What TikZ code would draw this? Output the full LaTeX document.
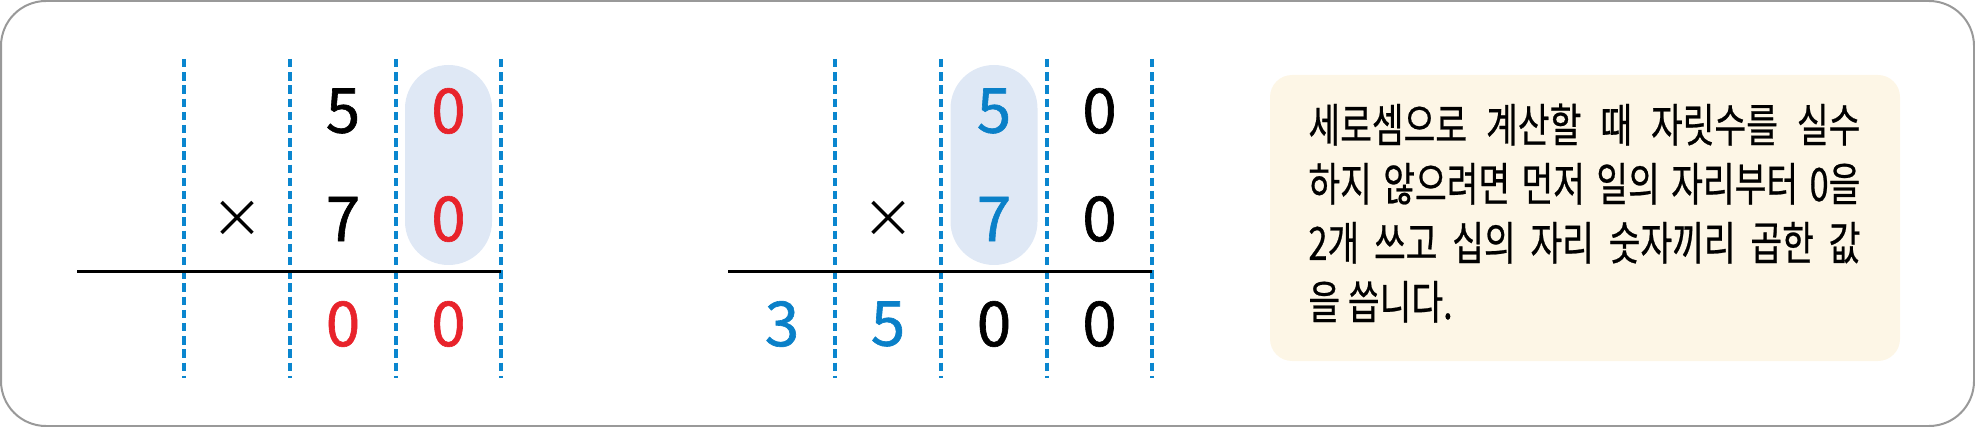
\documentclass[tikz,border=0pt]{standalone}
\usepackage{fontspec}
\setmainfont{Noto Sans CJK KR}
\newfontfamily\kofont[FakeStretch=0.75,FakeBold=0.5]{Noto Sans CJK KR}
\newfontfamily\digitfont[FakeBold=1]{Noto Sans CJK KR}
\usepackage{tikz}
\definecolor{framegray}{HTML}{999999}
\definecolor{guideblue}{HTML}{0A86CF}
\definecolor{digitblue}{HTML}{0A80C8}
\definecolor{digitred}{HTML}{E8232B}
\definecolor{pillblue}{HTML}{DFE8F5}
\definecolor{notecream}{HTML}{FDF6E6}
\tikzset{
  digit/.style={font=\digitfont\fontsize{31}{31}\selectfont, inner sep=0pt},
  timesmark/.style={font=\fontsize{26}{26}\selectfont, inner sep=0pt},
  guide/.style={guideblue, line width=1.6pt, dash pattern=on 4.2pt off 2.4pt},
  rule/.style={black, line width=1.5pt},
  pill/.style={pillblue, rounded corners=21.7pt},
  noteline/.style={anchor=base west, inner sep=0pt,
    font=\kofont\fontsize{23}{23}\selectfont},
}

\begin{document}
\begin{tikzpicture}[x=0.5pt,y=-0.5pt]

  \newcommand\RowA{111}; % first row
  \newcommand\RowB{219}; % second row
  \newcommand\RowC{324}; % result row

  \useasboundingbox (0,0) rectangle (1975,427);
  \draw[framegray, line width=1pt, rounded corners=22.5pt] (1,1) rectangle (1974,426);

  %% highlighted columns
  \fill[pill] (405,65) rectangle (492,265);
  \fill[pill] (950.5,65) rectangle (1037.5,265);

  %% left: 50 x 70, ones digits first
  \draw[guide] (184,59) -- (184,378);
  \draw[guide] (290,59) -- (290,378);
  \draw[guide] (396,59) -- (396,378);
  \draw[guide] (501,59) -- (501,378);
  \draw[rule] (77,272) -- (501,272);

  \node[digit] (la5) at (343,\RowA) {5};
  \node[digit, digitred] (la0) at (448.5,\RowA) {0};
  \node[timesmark] (lx) at (237,\RowB) {×};
  \node[digit] (lb7) at (343,\RowB) {7};
  \node[digit, digitred] (lb0) at (448.5,\RowB) {0};
  \node[digit, digitred] (lc0) at (343,\RowC) {0};
  \node[digit, digitred] (lc1) at (448.5,\RowC) {0};

  %% right: then the tens digits
  \draw[guide] (835,59) -- (835,378);
  \draw[guide] (941,59) -- (941,378);
  \draw[guide] (1047,59) -- (1047,378);
  \draw[guide] (1152,59) -- (1152,378);
  \draw[rule] (728,272) -- (1152,272);

  \node[digit, digitblue] (ra5) at (994,\RowA) {5};
  \node[digit] (ra0) at (1099.5,\RowA) {0};
  \node[timesmark] (rx) at (888,\RowB) {×};
  \node[digit, digitblue] (rb7) at (994,\RowB) {7};
  \node[digit] (rb0) at (1099.5,\RowB) {0};
  \node[digit, digitblue] (rc3) at (782,\RowC) {3};
  \node[digit, digitblue] (rc5) at (888,\RowC) {5};
  \node[digit] (rc0) at (994,\RowC) {0};
  \node[digit] (rc1) at (1099.5,\RowC) {0};

  %% note
  \fill[notecream, rounded corners=11pt] (1270,75) rectangle (1900,361);
  \node[noteline] (tip1) at (1308,142) {\makebox[276pt][s]{세로셈으로 계산할 때 자릿수를 실수}};
  \node[noteline] (tip2) at (1308,201) {\makebox[276pt][s]{하지 않으려면 먼저 일의 자리부터 0을}};
  \node[noteline] (tip3) at (1308,260) {\makebox[276pt][s]{2개 쓰고 십의 자리 숫자끼리 곱한 값}};
  \node[noteline] (tip4) at (1308,319) {을 씁니다.};

\end{tikzpicture}
\end{document}
